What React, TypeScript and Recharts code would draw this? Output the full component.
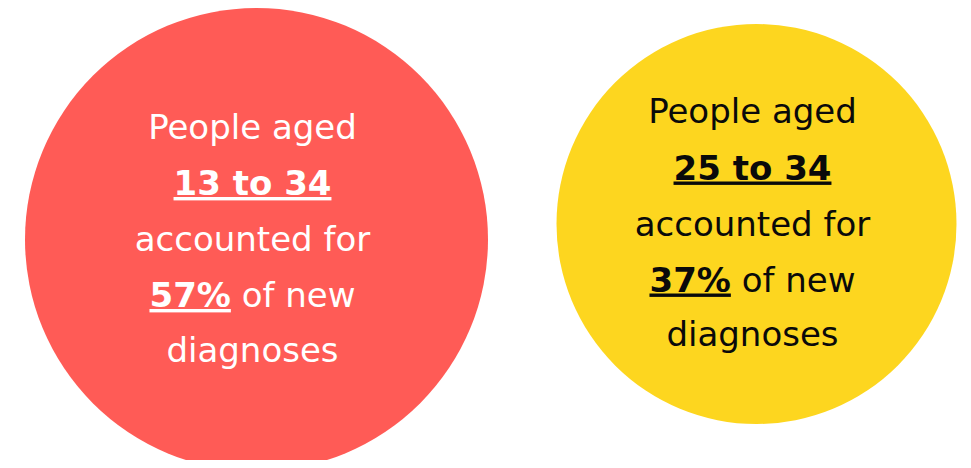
import React from 'react';
import { ScatterChart, Scatter, XAxis, YAxis, ZAxis } from 'recharts';

// ---- data ----
const ageGroups: string[] = ['13 to 34', '25 to 34'];
const shareOfNewDiagnoses: number[] = [57, 37];
const introText: string[] = ['People aged', 'People aged'];
const middleText: string[] = ['accounted for', 'accounted for'];
const tailText: string[] = ['of new', 'of new'];
const closingText: string[] = ['diagnoses', 'diagnoses'];

// ---- styles ----
const FILLS = ['#FF5B56', '#FDD61F'];
const TEXT_COLORS = ['#FFFFFF', '#0A0A0A'];
const CIRCLE_DY = [5.5, -10];
const LINE_OFFSETS = [-101, -44.5, 11.5, 67.5, 122];
const TEXT_DX = -4;
const FONT = '"DejaVu Sans", Verdana, sans-serif';
const FONT_SIZE = 34;

const rows = ageGroups.map((g, i) => ({
  idx: i,
  row: 0,
  group: g,
  share: shareOfNewDiagnoses[i],
}));

const Bubble = (props: any) => {
  const { cx, cy, width, payload } = props;
  const i = payload.idx;
  const r = width / 2;
  const y = cy + CIRCLE_DY[i];
  const tx = cx + TEXT_DX;
  const color = TEXT_COLORS[i];
  const ul = {
    textDecoration: 'underline',
    textDecorationThickness: '2px',
    textUnderlineOffset: '5px',
  } as React.CSSProperties;
  const common = {
    x: tx,
    textAnchor: 'middle' as const,
    fill: color,
    fontFamily: FONT,
    fontSize: FONT_SIZE,
  };
  return (
    <g>
      <circle cx={cx} cy={y} r={r} fill={FILLS[i]} />
      <text {...common} y={y + LINE_OFFSETS[0]}>{introText[i]}</text>
      <text {...common} y={y + LINE_OFFSETS[1]} fontWeight={700} style={ul}>
        {payload.group}
      </text>
      <text {...common} y={y + LINE_OFFSETS[2]}>{middleText[i]}</text>
      <text {...common} y={y + LINE_OFFSETS[3]}>
        <tspan fontWeight={700} style={ul}>{`${payload.share}%`}</tspan>
        <tspan>{` ${tailText[i]}`}</tspan>
      </text>
      <text {...common} y={y + LINE_OFFSETS[4]}>{closingText[i]}</text>
    </g>
  );
};

export default function App() {
  return (
    <div style={{ margin: -8, width: 971, height: 468, overflow: 'hidden', background: '#fff' }}>
      <ScatterChart width={971} height={468} margin={{ top: 0, right: 0, bottom: 0, left: 0 }}>
        <XAxis type="number" dataKey="idx" domain={[-0.513, 1.429]} hide />
        <YAxis type="number" dataKey="row" domain={[-1, 1]} hide />
        <ZAxis
          type="number"
          dataKey="share"
          domain={[37, 57]}
          range={[Math.PI * 200 * 200, Math.PI * 231.5 * 231.5]}
        />
        <Scatter data={rows} shape={Bubble} isAnimationActive={false} />
      </ScatterChart>
    </div>
  );
}
